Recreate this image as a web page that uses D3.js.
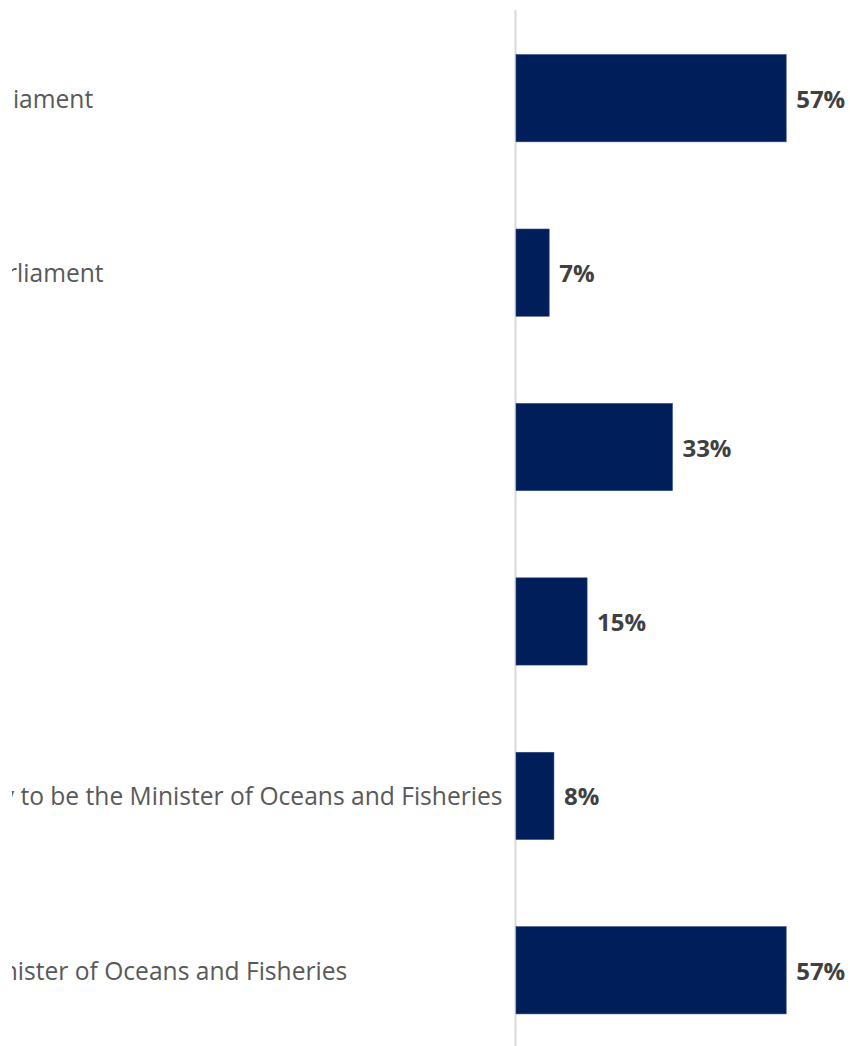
<!DOCTYPE html>
<html>
<head>
<meta charset="utf-8">
<script src="https://cdn.jsdelivr.net/npm/d3@7"></script>
<style>
  html, body { margin: 0; padding: 0; background: #ffffff; }
  svg { display: block; }
</style>
</head>
<body>
<script>
// Survey responses: share of respondents choosing each option
const categories = [
  "Current Member of Parliament",
  "Previous Member of Parliament",
  "No preference",
  "Don't know",
  "It is not really necessary to be the Minister of Oceans and Fisheries",
  "Must be the current Minister of Oceans and Fisheries"
];
const values = [0.57, 0.07, 0.33, 0.15, 0.08, 0.57];

const width = 850, height = 1046;
const axisX = 516;        // left edge of the bars (category axis)
const labelX = -260;      // category labels are left-aligned in a wide column
const clipLeft = 12;      // the label column is clipped at this edge

const svg = d3.select("body").append("svg")
  .attr("width", width)
  .attr("height", height);

svg.append("clipPath").attr("id", "label-clip")
  .append("rect")
  .attr("x", clipLeft).attr("y", 0)
  .attr("width", axisX - clipLeft).attr("height", height);

const x = d3.scaleLinear().domain([0, 0.6]).range([axisX, axisX + 284.4]);
const y = d3.scaleBand().domain(categories).range([11, 1057.5]).paddingInner(0.5).paddingOuter(0.25);

// vertical category axis line
svg.append("line")
  .attr("x1", axisX - 0.5).attr("x2", axisX - 0.5)
  .attr("y1", 10).attr("y2", height)
  .attr("stroke", "#d9d9d9")
  .attr("stroke-width", 2);

// bars
svg.selectAll("rect.bar")
  .data(categories)
  .join("rect")
  .attr("class", "bar")
  .attr("x", x(0))
  .attr("y", d => y(d))
  .attr("width", (d, i) => x(values[i]) - x(0))
  .attr("height", y.bandwidth())
  .attr("fill", "#001e5a")
  .attr("stroke", "#2c4680")
  .attr("stroke-width", 0.6);

// value labels
svg.selectAll("text.value")
  .data(categories)
  .join("text")
  .attr("class", "value")
  .attr("x", (d, i) => x(values[i]) + 10)
  .attr("y", d => y(d) + y.bandwidth() / 2)
  .attr("dominant-baseline", "central")
  .attr("font-family", "'Open Sans', sans-serif")
  .attr("font-weight", "bold")
  .attr("font-size", 24)
  .attr("fill", "#404040")
  .text((d, i) => d3.format(".0%")(values[i]));

// category labels
svg.append("g")
  .attr("clip-path", "url(#label-clip)")
  .selectAll("text.cat")
  .data(categories)
  .join("text")
  .attr("class", "cat")
  .attr("x", labelX)
  .attr("y", d => y(d) + y.bandwidth() / 2)
  .attr("dominant-baseline", "central")
  .attr("font-family", "'Open Sans', sans-serif")
  .attr("font-size", 24.6)
  .attr("fill", "#595959")
  .text(d => d);
</script>
</body>
</html>
